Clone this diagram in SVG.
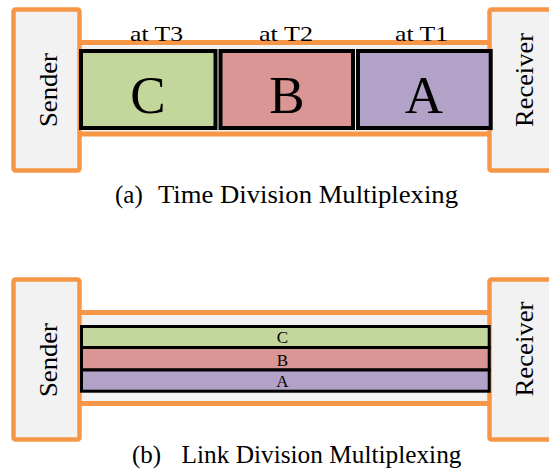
<svg xmlns="http://www.w3.org/2000/svg" width="549" height="472" viewBox="0 0 549 472">
  <style>
    .bg { fill: #ffffff; }
    .endpoint { fill: #f2f2f2; stroke: #f79646; stroke-width: 4.5; }
    .pipe { fill: #f2f2f2; stroke: #f79646; stroke-width: 5; }
    .cell { stroke: #000000; stroke-width: 4; }
    .lane { stroke: #000000; stroke-width: 3; }
    .green { fill: #c3d69b; }
    .red { fill: #d99694; }
    .purple { fill: #b3a2c7; }
    text { font-family: "Liberation Serif", "Times New Roman", serif; fill: #000000; }
    .side { font-size: 26px; text-anchor: middle; }
    .slot { font-size: 22px; }
    .big { font-size: 53px; text-anchor: middle; }
    .small { font-size: 17px; text-anchor: middle; }
    .caption { font-size: 25px; }
  </style>

  <rect class="bg" x="0" y="0" width="549" height="472"/>

  <!-- (a) Time Division Multiplexing -->
  <g id="tdm-link">
    <rect class="pipe" x="60" y="42.5" width="450" height="91.5"/>
  </g>
  <g id="tdm-sender">
    <rect class="endpoint" x="13.5" y="9.5" width="66" height="161" rx="2"/>
    <text class="side" font-family="Liberation Serif, serif" transform="translate(56.5,90) rotate(-90)" textLength="74" lengthAdjust="spacingAndGlyphs">Sender</text>
  </g>
  <g id="tdm-receiver">
    <rect class="endpoint" x="489.5" y="9.5" width="80" height="161" rx="2"/>
    <text class="side" font-family="Liberation Serif, serif" transform="translate(533.3,80) rotate(-90)" textLength="94" lengthAdjust="spacingAndGlyphs">Receiver</text>
  </g>
  <g id="tdm-slot-c">
    <rect class="cell green" x="81" y="51" width="134.5" height="77"/>
    <text class="big" x="148" y="113">C</text>
    <text class="slot" x="130" y="41" textLength="53" lengthAdjust="spacingAndGlyphs">at T3</text>
  </g>
  <g id="tdm-slot-b">
    <rect class="cell red" x="220.5" y="51" width="132.5" height="77"/>
    <text class="big" x="287" y="113">B</text>
    <text class="slot" x="259" y="41" textLength="54" lengthAdjust="spacingAndGlyphs">at T2</text>
  </g>
  <g id="tdm-slot-a">
    <rect class="cell purple" x="358" y="51" width="132.7" height="77"/>
    <text class="big" x="424" y="113">A</text>
    <text class="slot" x="395" y="41" textLength="53" lengthAdjust="spacingAndGlyphs">at T1</text>
  </g>
  <g id="tdm-caption">
    <text class="caption" x="115" y="203">(a)</text>
    <text class="caption" x="158" y="203" textLength="300" lengthAdjust="spacingAndGlyphs">Time Division Multiplexing</text>
  </g>

  <!-- (b) Link Division Multiplexing -->
  <g id="ldm-link">
    <rect class="pipe" x="60" y="312.5" width="450" height="91"/>
  </g>
  <g id="ldm-sender">
    <rect class="endpoint" x="13.5" y="279.5" width="66" height="160" rx="2"/>
    <text class="side" transform="translate(56.5,360) rotate(-90)" textLength="74" lengthAdjust="spacingAndGlyphs">Sender</text>
  </g>
  <g id="ldm-receiver">
    <rect class="endpoint" x="489.5" y="279.5" width="80" height="160" rx="2"/>
    <text class="side" transform="translate(533.3,349) rotate(-90)" textLength="95" lengthAdjust="spacingAndGlyphs">Receiver</text>
  </g>
  <g id="ldm-lane-c">
    <rect class="lane green" x="81.5" y="326.5" width="407.7" height="21"/>
    <text class="small" x="282.5" y="343">C</text>
  </g>
  <g id="ldm-lane-b">
    <rect class="lane red" x="81.5" y="347.5" width="407.7" height="22.5"/>
    <text class="small" x="282.5" y="365.5">B</text>
  </g>
  <g id="ldm-lane-a">
    <rect class="lane purple" x="81.5" y="370" width="407.7" height="21.2"/>
    <text class="small" x="282.5" y="386.5">A</text>
  </g>
  <g id="ldm-caption">
    <text class="caption" x="132" y="463.3">(b)</text>
    <text class="caption" x="181.5" y="463.3" textLength="280" lengthAdjust="spacingAndGlyphs">Link Division Multiplexing</text>
  </g>

  <!-- no connectors between nodes -->
  <g id="connectors"/>
</svg>
